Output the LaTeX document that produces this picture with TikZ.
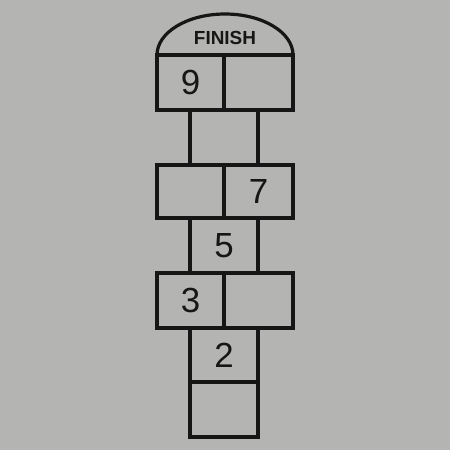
\documentclass[tikz,border=0pt]{standalone}
\usepackage{fontspec}
\setmainfont{Liberation Sans}
\definecolor{bg}{RGB}{180,180,178}
\definecolor{ink}{RGB}{22,22,22}
\begin{document}
\begin{tikzpicture}[x=1bp,y=-1bp,
  cell/.style={draw=ink,line width=3.2bp,minimum width=#1,minimum height=55bp,inner sep=0pt,anchor=center,
    font=\fontsize{35}{35}\selectfont,text=ink},
  cell/.default=68bp,
  label/.style={font=\fontsize{19}{19}\selectfont\bfseries,text=ink,inner sep=0pt}]
\fill[bg] (0,0) rectangle (450,450);
\useasboundingbox (0,0) rectangle (450,450);
% dome
\draw[ink,line width=3.2bp] (157,55) arc[start angle=180,end angle=0,x radius=68bp,y radius=41bp];
\node[label] (fin) at (225,38) {FINISH};
% cells
\node[cell=67bp] (c9) at (190.5,82.5) {9};
\node[cell=69bp] (c10) at (258.5,82.5) {};
\node[cell] (c8) at (224,137.5) {};
\node[cell=67bp,minimum height=53bp] (c6) at (190.5,191.5) {};
\node[cell=69bp,minimum height=53bp] (c7) at (258.5,191.5) {7};
\node[cell] (c5) at (224,245.5) {5};
\node[cell=67bp] (c3) at (190.5,300.5) {3};
\node[cell=69bp] (c4) at (258.5,300.5) {};
\node[cell,minimum height=54bp] (c2) at (224,355) {2};
\node[cell] (c1) at (224,409.5) {};
\end{tikzpicture}
\end{document}
